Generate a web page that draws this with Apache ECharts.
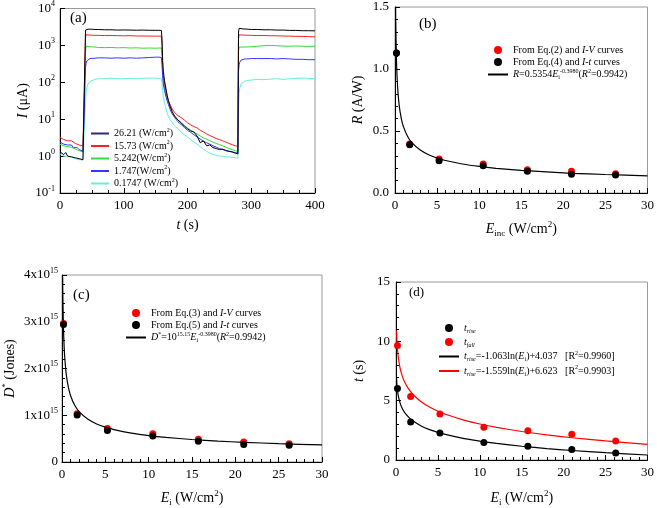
<!DOCTYPE html>
<html><head><meta charset="utf-8">
<script src="https://cdn.jsdelivr.net/npm/echarts@6/dist/echarts.min.js"></script>
<style>html,body{margin:0;padding:0;background:#fff}#c{width:657px;height:508px}</style>
</head><body><div id="c"></div>
<script>
// ---------- Panel (a): photocurrent vs time ----------
const T = [0,3,6,9,12,15,18,21,24,27,30,33,36,39,
  40,41,42,44,47,50,55,60,
  70,80,90,100,110,120,130,140,150,
  155,159,
  160,161,162,164,166,168,170,173,176,180,
  185,190,195,200,205,210,215,220,225,230,235,240,245,250,255,260,265,270,275,
  279,
  280,281,282,284,287,290,295,300,
  310,320,330,340,350,360,370,380,390,
  400];
const I_2621 = [1.3,1.2,1.1,1.25,1.0,1.1,0.95,1.05,0.9,1.0,0.85,0.95,0.8,0.78,
  2600,2850,2800,2750,2800,2750,2700,2700,
  2650,2650,2600,2620,2600,2580,2600,2570,2560,
  2560,2550,
  1500,400,200,110,70,45,32,22,16,12,
  9.5,8.0,6.5,5.5,4.8,4.5,3.5,2.3,2.6,1.9,2.0,1.7,1.6,1.5,1.55,1.4,1.35,1.3,1.2,
  1.15,
  2300,2900,2900,2850,2800,2800,2750,2700,
  2700,2650,2650,2600,2600,2550,2550,2500,2500,
  2480];
const I_1573 = [3.2,3.0,2.8,2.9,2.6,2.5,2.6,2.3,2.2,2.3,2.0,2.1,1.9,1.75,
  1600,1950,1950,1900,1900,1880,1870,1870,
  1850,1850,1840,1820,1830,1800,1800,1790,1780,
  1780,1770,
  1000,300,150,90,60,42,32,24,19,15,
  12.5,11,9.5,8,7,6.3,5.8,5.0,4.5,4.0,3.6,3.3,3.0,2.8,2.6,2.4,2.2,2.05,1.9,
  1.85,
  1500,1950,1950,1900,1900,1880,1880,1870,
  1850,1850,1830,1820,1800,1780,1760,1750,1740,
  1700];
const I_5242 = [2.1,2.0,1.9,1.95,1.8,1.7,1.75,1.6,1.55,1.5,1.4,1.45,1.3,1.2,
  700,950,950,930,920,900,900,880,
  870,880,860,870,850,860,840,850,840,
  850,850,
  500,200,110,70,48,35,27,20,15.5,12,
  9.5,8.0,6.8,5.8,5.0,4.5,4.0,3.5,3.1,2.9,2.6,2.4,2.2,2.05,1.9,1.75,1.6,1.5,1.4,
  1.35,
  700,900,920,900,900,900,910,920,
  950,980,1000,980,960,950,960,950,940,
  950];
const I_1747 = [2.4,2.3,2.1,2.2,2.0,1.9,2.0,1.7,1.6,1.7,1.5,1.45,1.35,1.3,
  250,330,380,420,440,450,450,460,
  460,450,460,450,460,450,460,470,480,
  480,470,
  300,150,90,60,42,32,25,18,14,11,
  8.5,7.2,6.0,5.0,4.4,3.8,3.3,2.9,2.5,2.3,2.1,1.9,1.75,1.6,1.5,1.45,1.35,1.3,1.25,
  1.2,
  200,300,350,400,420,430,430,440,
  440,440,440,430,440,430,420,420,410,
  410];
const I_01747 = [1.15,1.1,1.0,1.05,0.95,0.9,0.95,0.85,0.85,0.9,0.8,0.85,0.78,0.75,
  30,55,70,90,105,115,120,125,
  125,130,125,125,128,125,128,130,130,
  128,125,
  100,60,40,28,20,15,12,9.5,8,6.5,
  5.5,4.5,3.8,3.3,2.8,2.4,2.1,1.8,1.55,1.35,1.2,1.1,1.05,1.0,1.0,0.95,0.95,0.92,0.9,
  0.88,
  20,50,70,90,100,108,112,115,
  120,118,122,125,120,125,128,130,128,
  125];
const A_NAMES = ['26.21','15.73','5.242','1.747','0.1747'];
const A_LABELS = {'26.21':'26.21 (W/cm{sup|2})','15.73':'15.73 (W/cm{sup|2})','5.242':'5.242(W/cm{sup|2})','1.747':'1.747(W/cm{sup|2})','0.1747':'0.1747 (W/cm{sup|2})'};

// ---------- Panels (b)-(d): measured points ----------
const E_PTS = [0.1747,1.747,5.242,10.48,15.73,20.97,26.21];
const R_IV = [1.13,0.395,0.274,0.234,0.188,0.175,0.156];
const R_IT = [1.129,0.39,0.261,0.220,0.175,0.151,0.145];
const D_IV = [2.96e15,1.03e15,0.714e15,0.603e15,0.485e15,0.43e15,0.39e15];
const D_IT = [2.94e15,1.005e15,0.672e15,0.555e15,0.444e15,0.374e15,0.36e15];
const T_RISE = [6.03,3.21,2.28,1.47,1.15,0.88,0.59];
const T_FALL = [9.64,5.36,3.88,2.76,2.46,2.17,1.61];

// ---------- fitted curves ----------
const FIT_E = [0.075,0.1,0.15,0.2,0.3,0.5,0.75,1,1.5,2,3,4,5,6,8,10,12,15,18,21,25,30];
const FIT_R = [1.5,1.339,1.139,1.016,0.865,0.706,0.600,0.535,0.456,0.406,0.346,0.308,0.282,0.262,0.234,0.214,0.199,0.182,0.170,0.159,0.149,0.138];
const FIT_D = [3.96e15,3.533e15,3.007e15,2.682e15,2.282e15,1.862e15,1.584e15,1.413e15,1.202e15,1.072e15,0.913e15,0.814e15,0.745e15,0.693e15,0.618e15,0.565e15,0.526e15,0.481e15,0.447e15,0.421e15,0.392e15,0.365e15];
const FIT_E_T = [0.065,0.1,0.15,0.2,0.3,0.5,0.75,1,1.5,2,3,4,5,6,8,10,12,15,18,21,25,30];
const FIT_RISE = [6.942,6.485,6.054,5.747,5.317,4.774,4.343,4.037,3.606,3.300,2.869,2.563,2.326,2.132,1.827,1.589,1.396,1.158,0.964,0.801,0.615,0.422];
const FIT_FALL = [10.884,10.213,9.580,9.131,8.500,7.703,7.072,6.623,5.991,5.542,4.910,4.462,4.114,3.830,3.381,3.033,2.749,2.401,2.117,1.877,1.605,1.321];

const F = "'Liberation Serif', serif";
function rich(fs) {
  return {
    i: {fontStyle:'italic', fontFamily:F, fontSize:fs, color:'#000'},
    sup: {fontFamily:F, fontSize:Math.round(fs*0.62), padding:[0,0,Math.round(fs*0.7),0], color:'#000'},
    isup: {fontFamily:F, fontStyle:'italic', fontSize:Math.round(fs*0.62), padding:[0,0,Math.round(fs*0.7),0], color:'#000'},
    sub: {fontFamily:F, fontSize:Math.round(fs*0.62), padding:[Math.round(fs*0.6),0,0,0], color:'#000'},
    isub: {fontFamily:F, fontStyle:'italic', fontSize:Math.round(fs*0.62), padding:[Math.round(fs*0.6),0,0,0], color:'#000'}
  };
}
const zip = (xs, ys) => xs.map((x, k) => [x, ys[k]]);

function axisBase(gi, extra) {
  return Object.assign({
    gridIndex: gi,
    axisLine: {show:true, onZero:false, lineStyle:{color:'#000', width:1}},
    axisTick: {show:true, inside:true, length:5, lineStyle:{color:'#000'}},
    minorTick: {show:true, splitNumber:5, length:3, lineStyle:{color:'#000'}},
    splitLine: {show:false},
    axisLabel: {fontFamily:F, fontSize:13, color:'#000', margin:6, rich:rich(13)},
    nameLocation: 'middle',
    nameTextStyle: {fontFamily:F, fontSize:14, color:'#000', rich:rich(14)}
  }, extra);
}

const gridStyle = {show:true, borderColor:'#999', borderWidth:1, containLabel:false};
const legText = {fontFamily:F, fontSize:10, color:'#000', lineHeight:12, rich:rich(10)};
const noSym = {opacity:0};

const series = [];
const aColors = {'26.21':'#000000','15.73':'#ff2020','5.242':'#33dd33','1.747':'#3535ff','0.1747':'#66eedd'};
const aData = {'26.21':I_2621,'15.73':I_1573,'5.242':I_5242,'1.747':I_1747,'0.1747':I_01747};
['0.1747','5.242','15.73','1.747','26.21'].forEach(n => {
  series.push({name:n, type:'line', xAxisIndex:0, yAxisIndex:0, data:zip(T, aData[n]),
    symbol:'none', lineStyle:{color:aColors[n], width:1}, itemStyle:{color:aColors[n]}});
});
const dot = c => ({color:c, opacity:1});
// (b)
series.push({name:'bIV', type:'scatter', xAxisIndex:1, yAxisIndex:1, data:zip(E_PTS, R_IV), symbol:'circle', symbolSize:7, itemStyle:dot('#ff0000')});
series.push({name:'bIT', type:'scatter', xAxisIndex:1, yAxisIndex:1, data:zip(E_PTS, R_IT), symbol:'circle', symbolSize:7, itemStyle:dot('#000')});
series.push({name:'bFit', type:'line', xAxisIndex:1, yAxisIndex:1, data:zip(FIT_E, FIT_R), symbol:'none', smooth:0.2, lineStyle:{color:'#000', width:1.2}, itemStyle:{color:'#000'}});
// (c)
series.push({name:'cIV', type:'scatter', xAxisIndex:2, yAxisIndex:2, data:zip(E_PTS, D_IV), symbol:'circle', symbolSize:7, itemStyle:dot('#ff0000')});
series.push({name:'cIT', type:'scatter', xAxisIndex:2, yAxisIndex:2, data:zip(E_PTS, D_IT), symbol:'circle', symbolSize:7, itemStyle:dot('#000')});
series.push({name:'cFit', type:'line', xAxisIndex:2, yAxisIndex:2, data:zip(FIT_E, FIT_D), symbol:'none', smooth:0.2, lineStyle:{color:'#000', width:1.2}, itemStyle:{color:'#000'}});
// (d)
series.push({name:'dRise', type:'scatter', xAxisIndex:3, yAxisIndex:3, data:zip(E_PTS, T_RISE), symbol:'circle', symbolSize:7, itemStyle:dot('#000')});
series.push({name:'dFall', type:'scatter', xAxisIndex:3, yAxisIndex:3, data:zip(E_PTS, T_FALL), symbol:'circle', symbolSize:7, itemStyle:dot('#ff0000')});
series.push({name:'dRiseFit', type:'line', xAxisIndex:3, yAxisIndex:3, data:zip(FIT_E_T, FIT_RISE), symbol:'none', smooth:0.2, lineStyle:{color:'#000', width:1.2}, itemStyle:{color:'#000'}});
series.push({name:'dFallFit', type:'line', xAxisIndex:3, yAxisIndex:3, data:zip(FIT_E_T, FIT_FALL), symbol:'none', smooth:0.2, lineStyle:{color:'#ff0000', width:1.2}, itemStyle:{color:'#ff0000'}});

const LEG = {
  bIV:'From Eq.(2) and {i|I-V} curves',
  bIT:'From Eq.(4) and {i|I-t} curves',
  bFit:'{i|R}=0.5354{i|E}{sub|i}{sup|-0.3980}({i|R}{sup|2}=0.9942)',
  cIV:'From Eq.(3) and {i|I-V} curves',
  cIT:'From Eq.(5) and {i|I-t} curves',
  cFit:'{i|D}{sup|*}=10{sup|15.15}{i|E}{sub|i}{sup|-0.3980}({i|R}{sup|2}=0.9942)',
  dRise:'{i|t}{isub|rise}',
  dFall:'{i|t}{isub|fall}',
  dRiseFit:'{i|t}{isub|rise}=-1.063ln({i|E}{sub|i})+4.037   [R{sup|2}=0.9960]',
  dFallFit:'{i|t}{isub|rise}=-1.559ln({i|E}{sub|i})+6.623   [R{sup|2}=0.9903]'
};
const legFmt = n => LEG[n];

const option = {
  animation: false,
  backgroundColor: '#fff',
  grid: [
    Object.assign({left:60, top:7, width:255, height:186}, gridStyle),
    Object.assign({left:395, top:7, width:256, height:186}, gridStyle),
    Object.assign({left:60, top:275, width:262, height:192}, gridStyle),
    Object.assign({left:396, top:282, width:255, height:186}, gridStyle)
  ],
  xAxis: [
    axisBase(0, {type:'value', min:0, max:400, interval:100, minorTick:{show:true, splitNumber:4, length:3, lineStyle:{color:'#000'}},
      name:'{i|t} (s)', nameGap:25}),
    axisBase(1, {type:'value', min:0, max:30, interval:5, name:'{i|E}{sub|inc} (W/cm{sup|2})', nameGap:27}),
    axisBase(2, {type:'value', min:0, max:30, interval:5, name:'{i|E}{sub|i} (W/cm{sup|2})', nameGap:27}),
    axisBase(3, {type:'value', min:0, max:30, interval:5, name:'{i|E}{sub|i} (W/cm{sup|2})', nameGap:29})
  ],
  yAxis: [
    axisBase(0, {type:'log', logBase:10, min:0.1, max:10000, minorTick:{show:false},
      axisLabel:{fontFamily:F, fontSize:13, color:'#000', margin:5, rich:rich(13),
        formatter: v => '10{sup|' + Math.round(Math.log10(v)) + '}'},
      name:'{i|I} (μA)', nameGap:30}),
    axisBase(1, {type:'value', min:0, max:1.5, interval:0.5,
      axisLabel:{fontFamily:F, fontSize:13, color:'#000', margin:6, formatter: v => v.toFixed(1)},
      name:'{i|R} (A/W)', nameGap:30}),
    axisBase(2, {type:'value', min:0, max:4e15, interval:1e15,
      axisLabel:{fontFamily:F, fontSize:13, color:'#000', margin:4, rich:rich(13),
        formatter: v => v === 0 ? '0' : Math.round(v/1e15) + 'x10{sup|15}'},
      name:'{i|D}{sup|*} (Jones)', nameGap:42}),
    axisBase(3, {type:'value', min:0, max:15, interval:5, name:'{i|t} (s)', nameGap:30})
  ],
  legend: [
    {orient:'vertical', left:90, top:127, padding:0, itemWidth:18, itemHeight:8, itemGap:0,
      data:[{name:'26.21', lineStyle:{color:'#2a2a80'}, itemStyle:noSym},
            {name:'15.73', itemStyle:noSym},{name:'5.242', itemStyle:noSym},
            {name:'1.747', itemStyle:noSym},{name:'0.1747', itemStyle:noSym}],
      formatter: n => A_LABELS[n], textStyle:legText, selectedMode:false},
    {orient:'vertical', left:487, top:44, padding:0, itemWidth:20, itemHeight:8, itemGap:0,
      data:[{name:'bIV', icon:'circle'},{name:'bIT', icon:'circle'},{name:'bFit', itemStyle:noSym}],
      formatter: legFmt, textStyle:legText, selectedMode:false},
    {orient:'vertical', left:125, top:307, padding:0, itemWidth:20, itemHeight:8, itemGap:0,
      data:[{name:'cIV', icon:'circle'},{name:'cIT', icon:'circle'},{name:'cFit', itemStyle:noSym}],
      formatter: legFmt, textStyle:legText, selectedMode:false},
    {orient:'vertical', left:438, top:322, padding:0, itemWidth:20, itemHeight:8, itemGap:2,
      data:[{name:'dRise', icon:'circle'},{name:'dFall', icon:'circle'},
            {name:'dRiseFit', itemStyle:noSym},{name:'dFallFit', itemStyle:noSym}],
      formatter: legFmt, textStyle:legText, selectedMode:false}
  ],
  graphic: [
    {type:'text', left:70, top:11, style:{text:'(a)', font:"15px 'Liberation Serif'", fill:'#000'}},
    {type:'text', left:419, top:17, style:{text:'(b)', font:"15px 'Liberation Serif'", fill:'#000'}},
    {type:'text', left:73, top:288, style:{text:'(c)', font:"15px 'Liberation Serif'", fill:'#000'}},
    {type:'text', left:409, top:286, style:{text:'(d)', font:"13px 'Liberation Serif'", fill:'#000'}}
  ],
  series: series
};
const chart = echarts.init(document.getElementById('c'), null, {renderer:'canvas'});
chart.setOption(option);
</script></body></html>
